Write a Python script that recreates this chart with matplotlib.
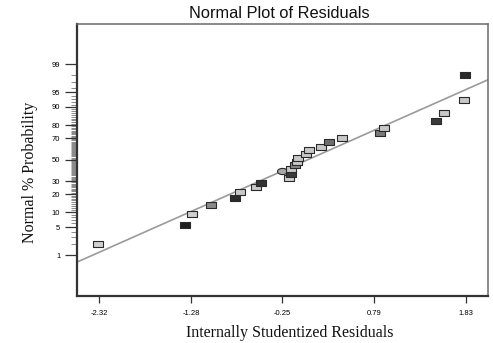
import numpy as np
import matplotlib
matplotlib.use("Agg")
import matplotlib.pyplot as plt
from matplotlib.path import Path
from statistics import NormalDist

# ---- data ----
resid = [-2.33, -1.35, -1.27, -1.05, -0.78, -0.73, -0.54, -0.49, -0.17, -0.15,
         -0.25, -0.15, -0.10, -0.08, -0.07, 0.02, 0.05, 0.19, 0.28, 0.43,
         0.86, 0.90, 1.49, 1.58, 1.81, 1.82]
prob_pct = [2.0, 5.6, 9.4, 13.3, 17.7, 21.7, 25.6, 28.7, 32.3, 36.2,
            38.8, 40.6, 44.3, 47.7, 51.3, 55.0, 59.4, 62.4, 66.9, 70.2,
            73.9, 78.2, 82.8, 87.4, 92.6, 98.0]
shade = ["#d0d0d0", "#1e1e1e", "#cfcfcf", "#8a8a8a", "#2a2a2a", "#c8c8c8",
         "#c8c8c8", "#333333", "#d0d0d0", "#3a3a3a", "#a8a8a8", "#c8c8c8",
         "#8a8a8a", "#c8c8c8", "#c8c8c8", "#c8c8c8", "#c8c8c8", "#c8c8c8",
         "#6e6e6e", "#c8c8c8", "#7a7a7a", "#c8c8c8", "#3a3a3a", "#c8c8c8",
         "#c8c8c8", "#2a2a2a"]
is_ellipse = [False] * 10 + [True] + [False] * 15

fit_x = [-2.57, 2.08]
fit_pct = [0.63, 97.4]

xticks = [-2.32, -1.28, -0.25, 0.79, 1.83]
xtick_labels = ["-2.32", "-1.28", "-0.25", "0.79", "1.83"]
yticks = [1, 5, 10, 20, 30, 50, 70, 80, 90, 95, 99]
yminor = [v for v in range(2, 99) if v not in yticks]

# ---- probability scale ----
nd = NormalDist()
def fwd(p):
    p = np.clip(np.asarray(p, dtype=float), 1e-6, 100 - 1e-6)
    return np.vectorize(lambda v: nd.inv_cdf(v / 100.0))(p)
def inv(z):
    z = np.asarray(z, dtype=float)
    return np.vectorize(lambda v: nd.cdf(v) * 100.0)(z)

fig = plt.figure(figsize=(4.93, 3.43), dpi=100)
ax = fig.add_axes([77 / 493, 1 - 296 / 343, (488 - 77) / 493, (296 - 24) / 343])
ax.set_yscale("function", functions=(fwd, inv))
ax.set_xlim(-2.57, 2.08)
ax.set_ylim(inv(-3.32), inv(3.30))

ax.plot(fit_x, fit_pct, color="#9a9a9a", lw=1.2, zorder=2)

rect = Path([(-1, -0.58), (1, -0.58), (1, 0.58), (-1, 0.58), (-1, -0.58)],
            [Path.MOVETO, Path.LINETO, Path.LINETO, Path.LINETO, Path.CLOSEPOLY])
t = np.linspace(0, 2 * np.pi, 40)
ell = Path(np.column_stack([np.cos(t), 0.62 * np.sin(t)]))

for x, p, c, e in zip(resid, prob_pct, shade, is_ellipse):
    ax.plot([x], [p], linestyle="none", marker=ell if e else rect,
            markersize=7.2, markerfacecolor=c, markeredgecolor="#2a2a2a",
            markeredgewidth=0.8, zorder=3)

ax.set_xticks(xticks)
ax.set_xticklabels(xtick_labels, fontsize=5.5, family="Liberation Sans")
ax.set_yticks(yticks)
ax.set_yticklabels([str(v) for v in yticks], fontsize=5.5, family="Liberation Sans")
ax.set_yticks(yminor, minor=True)
ax.tick_params(axis="y", which="major", direction="out", length=9, width=0.9,
               color="#333333", pad=3)
ax.tick_params(axis="y", which="minor", direction="out", length=4.5, width=0.5,
               color="#5a5a5a")
ax.tick_params(axis="x", which="major", direction="out", length=5, width=0.9,
               color="#333333", pad=5)
ax.tick_params(axis="x", which="minor", bottom=False)

for s in ["left", "bottom"]:
    ax.spines[s].set_color("#333333")
    ax.spines[s].set_linewidth(1.6)
for s in ["top", "right"]:
    ax.spines[s].set_color("#6a6a6a")
    ax.spines[s].set_linewidth(1.1)

fig.text(279 / 493, 1 - 14 / 343, "Normal Plot of Residuals", ha="center",
         va="center", fontsize=11.8, family="Liberation Sans", color="#111111")
fig.text(290 / 493, 1 - 333 / 343, "Internally Studentized Residuals",
         ha="center", va="center", fontsize=11.5, family="Liberation Serif",
         color="#111111")
fig.text(30 / 493, 1 - 172 / 343, "Normal % Probability", ha="center",
         va="center", rotation=90, fontsize=11.5, family="Liberation Serif",
         color="#111111")

fig.savefig("out.png", dpi=100)
